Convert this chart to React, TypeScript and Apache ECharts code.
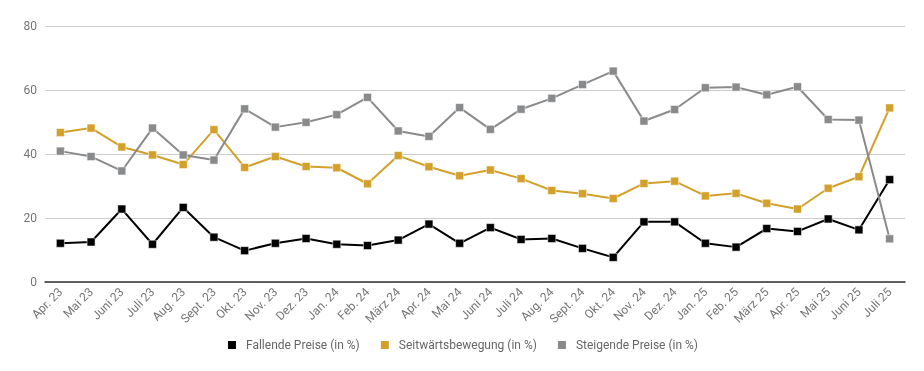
import React, { useEffect, useRef } from "react";
import * as echarts from "echarts";

const categories = [
  "Apr. 23", "Mai 23", "Juni 23", "Juli 23", "Aug. 23", "Sept. 23", "Okt. 23", "Nov. 23", "Dez. 23",
  "Jan. 24", "Feb. 24", "März 24", "Apr. 24", "Mai 24", "Juni 24", "Juli 24", "Aug. 24", "Sept. 24", "Okt. 24", "Nov. 24", "Dez. 24",
  "Jan. 25", "Feb. 25", "März 25", "Apr. 25", "Mai 25", "Juni 25", "Juli 25",
];

const fallende = [
  12.1, 12.5, 22.8, 11.8, 23.3, 14.0, 9.8, 12.1, 13.6,
  11.8, 11.4, 13.1, 18.1, 12.1, 17.0, 13.3, 13.6, 10.5, 7.7, 18.8, 18.8,
  12.1, 10.9, 16.7, 15.8, 19.7, 16.3, 32.0,
];

const seitwaerts = [
  46.7, 48.1, 42.2, 39.7, 36.7, 47.6, 35.8, 39.2, 36.1,
  35.7, 30.7, 39.5, 36.0, 33.2, 35.0, 32.3, 28.6, 27.6, 26.1, 30.8, 31.5,
  26.9, 27.7, 24.6, 22.8, 29.3, 32.9, 54.4,
];

const steigende = [
  40.9, 39.2, 34.7, 48.1, 39.7, 38.1, 54.1, 48.4, 49.9,
  52.3, 57.7, 47.2, 45.5, 54.5, 47.7, 54.0, 57.4, 61.7, 65.9, 50.3, 53.9,
  60.7, 60.9, 58.5, 61.0, 50.8, 50.6, 13.5,
];

const seriesNames = ["Fallende Preise (in %)", "Seitwärtsbewegung (in %)", "Steigende Preise (in %)"];
const colors = ["#000000", "#D3A12B", "#898A8C"];

export default function App() {
  const ref = useRef<HTMLDivElement>(null);
  useEffect(() => {
    if (!ref.current) return;
    const chart = echarts.init(ref.current, undefined, { renderer: "svg" });
    const mk = (name: string, data: number[], color: string) => ({
      name,
      type: "line",
      data,
      symbol: "rect",
      symbolSize: 8,
      itemStyle: { color, borderColor: "#ffffff", borderWidth: 0.5 },
      lineStyle: { color, width: 2 },
    });
    chart.setOption({
      animation: false,
      textStyle: { fontFamily: "Roboto" },
      grid: { left: 45, right: 19, top: 26, bottom: 89, containLabel: false },
      legend: {
        bottom: 15,
        left: "center",
        itemWidth: 10,
        itemHeight: 10,
        itemGap: 19,
        icon: "rect",
        textStyle: { color: "#666666", fontSize: 12, fontFamily: "Roboto", padding: [0, 0, 0, 4] },
        data: seriesNames,
      },
      xAxis: {
        type: "category",
        data: categories,
        boundaryGap: true,
        axisLine: { lineStyle: { color: "#333333", width: 1.5 } },
        axisTick: { show: false },
        axisLabel: { rotate: 45, color: "#757575", fontSize: 12, interval: 0, margin: 8 },
      },
      yAxis: {
        type: "value",
        min: 0,
        max: 80,
        interval: 20,
        axisLine: { show: false },
        axisTick: { show: false },
        axisLabel: { color: "#757575", fontSize: 12, margin: 8 },
        splitLine: { lineStyle: { color: "#cccccc", width: 1 } },
      },
      series: [
        mk(seriesNames[0], fallende, colors[0]),
        mk(seriesNames[1], seitwaerts, colors[1]),
        mk(seriesNames[2], steigende, colors[2]),
      ],
    });
    return () => chart.dispose();
  }, []);
  return <div ref={ref} style={{ position: "fixed", left: 0, top: 0, width: 924, height: 371 }} />;
}
